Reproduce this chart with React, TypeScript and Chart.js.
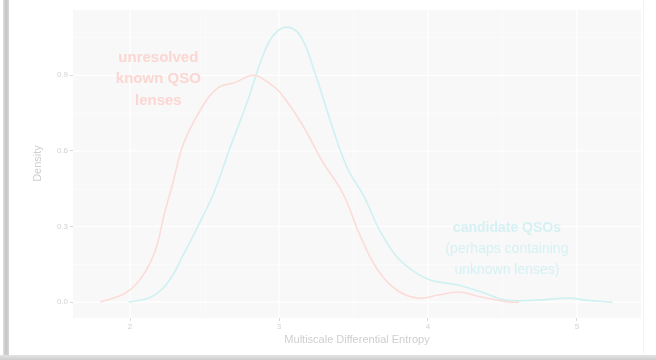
import React, { useEffect, useRef } from "react";
import { Chart, registerables } from "chart.js";

Chart.register(...registerables);

const knownX = [1.8, 1.97, 2.08, 2.17, 2.23, 2.28, 2.36, 2.48, 2.59, 2.7, 2.83, 2.93, 3.01, 3.15, 3.29, 3.43, 3.54, 3.66, 3.79, 3.93, 4.07, 4.21, 4.36, 4.55, 4.61];
const knownY = [0.0, 0.036, 0.1, 0.206, 0.35, 0.456, 0.63, 0.77, 0.85, 0.87, 0.9, 0.87, 0.83, 0.71, 0.56, 0.43, 0.27, 0.13, 0.048, 0.016, 0.028, 0.04, 0.02, 0.0, 0.0];

const candX = [1.99, 2.14, 2.25, 2.36, 2.48, 2.56, 2.67, 2.79, 2.9, 2.98, 3.07, 3.15, 3.23, 3.35, 3.46, 3.57, 3.68, 3.79, 3.91, 4.02, 4.21, 4.36, 4.52, 4.72, 4.95, 5.06, 5.24];
const candY = [0.0, 0.02, 0.075, 0.19, 0.33, 0.43, 0.61, 0.8, 0.99, 1.07, 1.09, 1.05, 0.93, 0.71, 0.53, 0.42, 0.28, 0.18, 0.12, 0.087, 0.067, 0.04, 0.008, 0.008, 0.016, 0.008, 0.0];

const xTicks = [2, 3, 4, 5];
const yTicks = [0.0, 0.3, 0.6, 0.9];
const xMinor = [1.5, 2.5, 3.5, 4.5, 5.5];
const yMinor = [0.15, 0.45, 0.75, 1.05];

const knownLabel = ["unresolved", "known QSO", "lenses"];
const candLabel = ["candidate QSOs", "(perhaps containing", "unknown lenses)"];
const yTitle = "Density";

const KNOWN_COLOR = "#fcdcd8";
const CAND_COLOR = "#cff1f1";
const FONT = "'Liberation Sans', Arial, sans-serif";

const panelPlugin = {
  id: "panel",
  beforeDatasetsDraw(chart: any) {
    const { ctx, chartArea, scales } = chart;
    const xs = scales.x;
    const ys = scales.y;
    ctx.save();
    ctx.fillStyle = "#f8f8f8";
    ctx.fillRect(chartArea.left, chartArea.top, chartArea.right - chartArea.left, chartArea.bottom - chartArea.top);
    ctx.beginPath();
    ctx.rect(chartArea.left, chartArea.top, chartArea.right - chartArea.left, chartArea.bottom - chartArea.top);
    ctx.clip();
    ctx.strokeStyle = "#fdfdfd";
    ctx.lineWidth = 0.6;
    for (const v of xMinor) {
      const p = Math.round(xs.getPixelForValue(v)) + 0.5;
      ctx.beginPath(); ctx.moveTo(p, chartArea.top); ctx.lineTo(p, chartArea.bottom); ctx.stroke();
    }
    for (const v of yMinor) {
      const p = Math.round(ys.getPixelForValue(v)) + 0.5;
      ctx.beginPath(); ctx.moveTo(chartArea.left, p); ctx.lineTo(chartArea.right, p); ctx.stroke();
    }
    ctx.strokeStyle = "#ffffff";
    ctx.lineWidth = 1.2;
    for (const v of xTicks) {
      const p = xs.getPixelForValue(v);
      ctx.beginPath(); ctx.moveTo(p, chartArea.top); ctx.lineTo(p, chartArea.bottom); ctx.stroke();
    }
    for (const v of yTicks) {
      const p = ys.getPixelForValue(v);
      ctx.beginPath(); ctx.moveTo(chartArea.left, p); ctx.lineTo(chartArea.right, p); ctx.stroke();
    }
    ctx.restore();
  },
  afterDatasetsDraw(chart: any) {
    const { ctx, scales, chartArea } = chart;
    const xs = scales.x;
    const ys = scales.y;
    ctx.save();
    ctx.textAlign = "center";
    ctx.textBaseline = "middle";
    ctx.font = `bold 15px ${FONT}`;
    ctx.fillStyle = "#fbd6d2";
    const kx = xs.getPixelForValue(2.19);
    const ky = ys.getPixelForValue(0.97);
    knownLabel.forEach((t, i) => ctx.fillText(t, kx, ky + i * 21.5));
    ctx.fillStyle = "#d6f1f3";
    const cx = xs.getPixelForValue(4.53);
    const cy = ys.getPixelForValue(0.295);
    candLabel.forEach((t, i) => {
      ctx.font = `${i === 0 ? "bold " : ""}14px ${FONT}`;
      ctx.fillText(t, cx, cy + i * 21);
    });
    ctx.restore();
    ctx.save();
    ctx.translate(chartArea.left - 35, ys.getPixelForValue(0.55));
    ctx.rotate(-Math.PI / 2);
    ctx.textAlign = "center";
    ctx.textBaseline = "middle";
    ctx.font = `11px ${FONT}`;
    ctx.fillStyle = "#cfcfcf";
    ctx.fillText(yTitle, 0, 0);
    ctx.restore();
  },
};

export default function App() {
  const ref = useRef<HTMLCanvasElement | null>(null);
  useEffect(() => {
    document.body.style.margin = "0";
    const canvas = ref.current!;
    const chart = new Chart(canvas, {
      type: "line",
      data: {
        datasets: [
          {
            label: "known",
            data: knownX.map((x, i) => ({ x, y: knownY[i] })),
            borderColor: KNOWN_COLOR,
            borderWidth: 1.6,
            pointRadius: 0,
            tension: 0.4,
            fill: false,
          },
          {
            label: "candidate",
            data: candX.map((x, i) => ({ x, y: candY[i] })),
            borderColor: CAND_COLOR,
            borderWidth: 1.6,
            pointRadius: 0,
            tension: 0.4,
            fill: false,
          },
        ],
      },
      options: {
        animation: false,
        responsive: false,
        maintainAspectRatio: false,
        layout: { padding: { left: 0, right: 15, top: 10, bottom: 0 } },
        plugins: { legend: { display: false }, tooltip: { enabled: false } },
        scales: {
          x: {
            type: "linear",
            min: 1.617,
            max: 5.43,
            afterBuildTicks: (s: any) => { s.ticks = xTicks.map((v) => ({ value: v })); },
            afterFit: (s: any) => { s.height = 37; },
            border: { display: false },
            grid: { drawOnChartArea: false, drawTicks: true, tickLength: 3, tickColor: "#d8d8d8", tickWidth: 1 },
            ticks: { color: "#d2d2d2", font: { family: FONT, size: 8 }, padding: 1, maxRotation: 0, callback: (v: any) => String(v) },
            title: { display: true, text: "Multiscale Differential Entropy", color: "#cfcfcf", font: { family: FONT, size: 11 }, padding: { top: 4, bottom: 8 } },
          },
          y: {
            type: "linear",
            min: -0.063,
            max: 1.159,
            afterBuildTicks: (s: any) => { s.ticks = yTicks.map((v) => ({ value: v })); },
            afterFit: (s: any) => { s.width = 73; },
            border: { display: false },
            grid: { drawOnChartArea: false, drawTicks: true, tickLength: 3, tickColor: "#d8d8d8", tickWidth: 1 },
            ticks: { color: "#d2d2d2", font: { family: FONT, size: 8 }, padding: 2, callback: (v: any) => Number(v).toFixed(1) },
            title: { display: false },
          },
        },
      },
      plugins: [panelPlugin],
    });
    return () => chart.destroy();
  }, []);
  return (
    <div style={{ position: "relative", width: 656, height: 360, background: "#ffffff", overflow: "hidden", filter: "blur(0.6px)" }}>
      <canvas ref={ref} width={656} height={355} style={{ position: "absolute", left: 0, top: 0, width: 656, height: 355 }} />
      <div style={{ position: "absolute", left: 3, top: 0, width: 6, height: 360, background: "linear-gradient(to right, #e0e0e0, #c4c4c4, #d8d8d8)" }} />
      <div style={{ position: "absolute", left: 0, top: 355, width: 656, height: 5, background: "linear-gradient(to bottom, #e4e4e4, #cdcdcd)" }} />
      <div style={{ position: "absolute", left: 643, top: 0, width: 1, height: 355, background: "#f4f4f4" }} />
    </div>
  );
}
